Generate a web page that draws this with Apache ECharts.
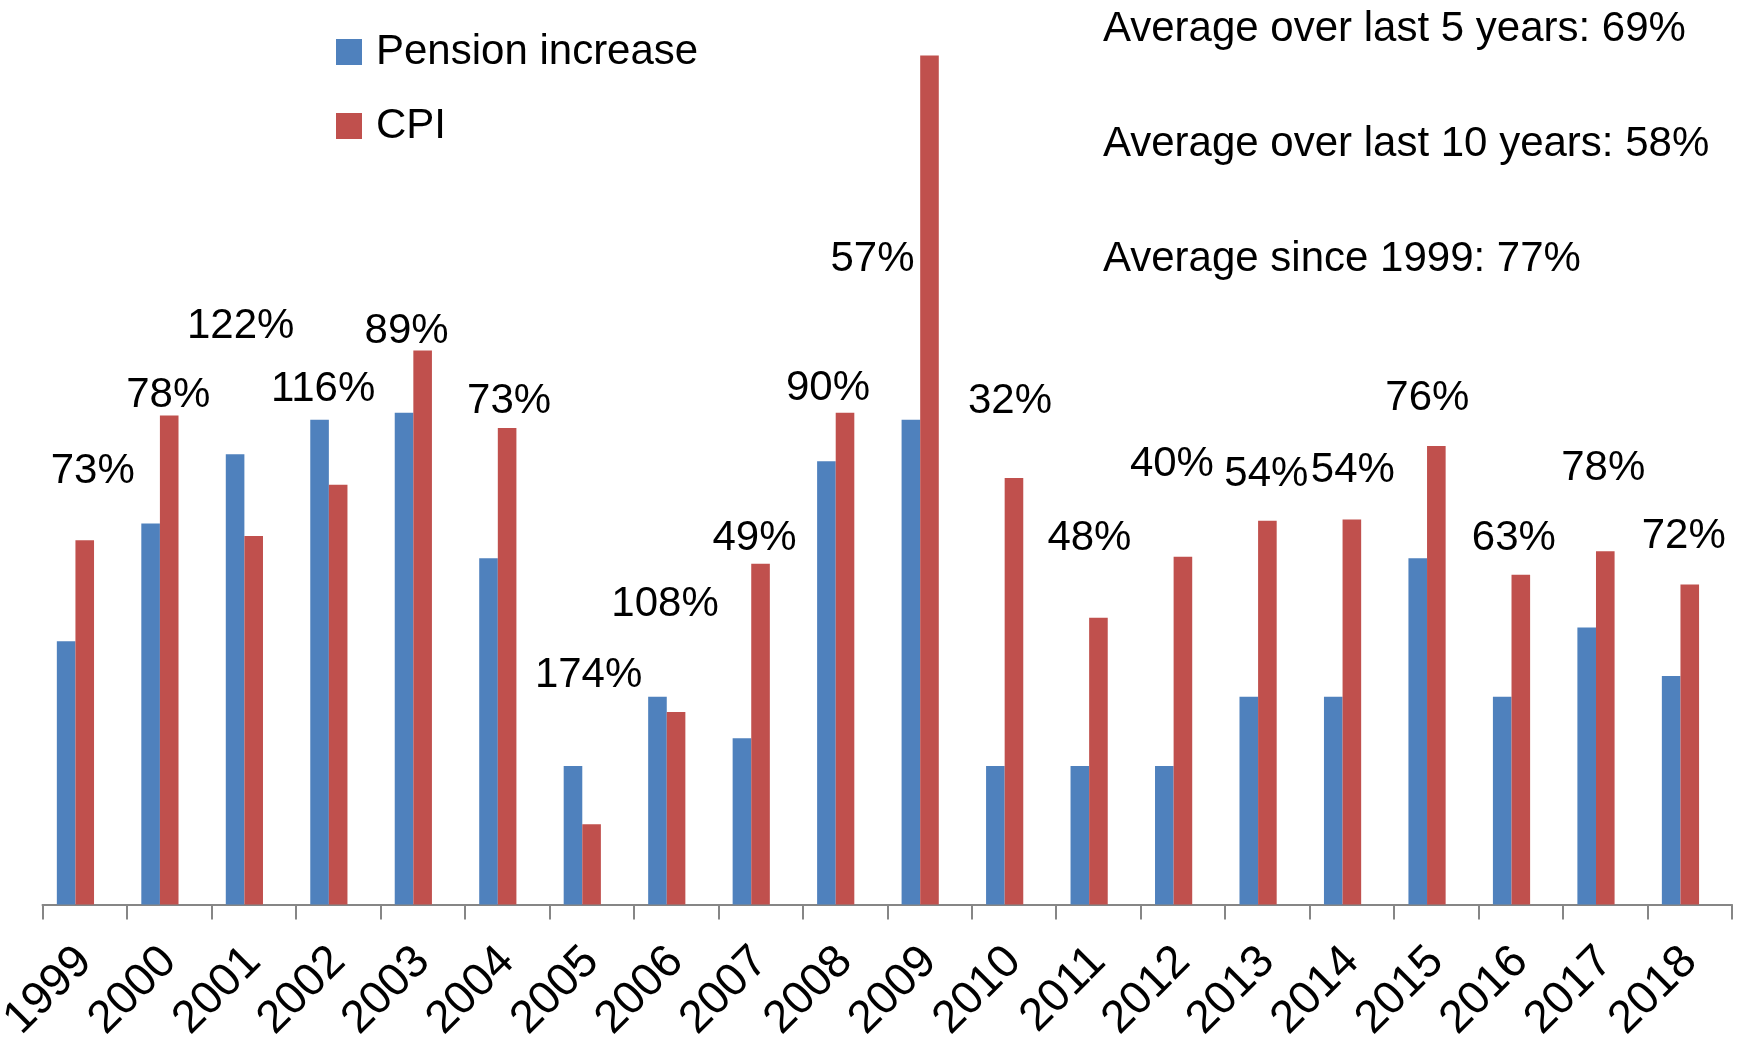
<!DOCTYPE html>
<html>
<head>
<meta charset="utf-8">
<script src="https://cdn.jsdelivr.net/npm/echarts@6/dist/echarts.min.js"></script>
<style>
  html, body { margin: 0; padding: 0; background: #fff; }
  #chart { width: 1745px; height: 1037px; }
</style>
</head>
<body>
<div id="chart"></div>
<script>
// values (%), no y axis is drawn
const years = ["1999", "2000", "2001", "2002", "2003", "2004", "2005", "2006", "2007", "2008",
  "2009", "2010", "2011", "2012", "2013", "2014", "2015", "2016", "2017", "2018"];
const pensionIncrease = [1.9, 2.75, 3.25, 3.5, 3.55, 2.5, 1.0, 1.5, 1.2, 3.2,
  3.5, 1.0, 1.0, 1.0, 1.5, 1.5, 2.5, 1.5, 2.0, 1.65];
const cpi = [2.63, 3.53, 2.66, 3.03, 4.0, 3.44, 0.58, 1.39, 2.46, 3.55,
  6.13, 3.08, 2.07, 2.51, 2.77, 2.78, 3.31, 2.38, 2.55, 2.31];
const ratioLabels = ["73%", "78%", "122%", "116%", "89%", "73%", "174%", "108%", "49%", "90%",
  "57%", "32%", "48%", "40%", "54%", "54%", "76%", "63%", "78%", "72%"];
const averages = ["Average over last 5 years: 69%", "Average over last 10 years: 58%", "Average since 1999: 77%"];

// where the ratio labels were placed by hand (height in axis units, x shift in px)
const labelLevel = [3.14, 3.69, 4.19, 3.73, 4.15, 3.65, 1.67, 2.18, 2.66, 3.74,
  4.67, 3.65, 2.66, 3.19, 3.12, 3.15, 3.67, 2.66, 3.16, 2.67];
const labelShift = [8, -1, -13, -15, -16, 2, -3, -11, -6, -17,
  -57, -4, -9, -11, -1, 1, -9, -7, -2, -6];

const FONT = "'Liberation Sans', Arial, sans-serif";

let chart = echarts.init(document.getElementById("chart"));

let option = {
  animation: false,
  textStyle: { fontFamily: FONT },
  color: ["#4F81BD", "#C0504D"],
  grid: { left: 42.5, right: 13, top: 0, bottom: 132.5, outerBoundsMode: "none" },
  legend: {
    orient: "vertical",
    left: 336,
    top: 31,
    padding: 0,
    itemWidth: 26,
    itemHeight: 26,
    itemGap: 32,
    icon: "rect",
    textStyle: { fontSize: 42, color: "#000", fontFamily: FONT, padding: [0, 0, 0, 9] },
    data: ["Pension increase", "CPI"]
  },
  graphic: averages.map(function (t, i) {
    return {
      type: "text",
      left: 1103,
      top: 8 + i * 115,
      style: { text: t, fontSize: 42, fontFamily: FONT, fill: "#000" }
    };
  }),
  xAxis: {
    type: "category",
    data: years,
    axisLine: { lineStyle: { color: "#868686", width: 2 } },
    axisTick: { show: true, length: 15, lineStyle: { color: "#868686", width: 2 } },
    axisLabel: { rotate: 45, fontSize: 46, color: "#000", margin: 50, fontFamily: FONT, interval: 0 }
  },
  yAxis: { type: "value", min: 0, max: 6.53, show: false },
  series: [{
    name: "Pension increase",
    type: "bar",
    barWidth: 18.6,
    barGap: "0%",
    data: pensionIncrease
  }, {
    name: "CPI",
    type: "bar",
    barWidth: 18.6,
    barGap: "0%",
    data: cpi
  }, {
    // empty third slot, as in the original chart, so the pair sits left of centre
    name: "slot",
    type: "bar",
    barWidth: 18.6,
    barGap: "0%",
    data: years.map(function () { return "-"; })
  }, {
    name: "ratio",
    type: "scatter",
    symbolSize: 1,
    itemStyle: { color: "rgba(0,0,0,0)", opacity: 1 },
    label: {
      show: true,
      position: "inside",
      fontSize: 42,
      color: "#000",
      opacity: 1,
      fontFamily: FONT,
      formatter: function (p) { return ratioLabels[p.dataIndex]; }
    },
    data: labelLevel.map(function (v, i) {
      return { value: v, label: { offset: [labelShift[i], 2] } };
    })
  }]
};

chart.setOption(option, true);
</script>
</body>
</html>
